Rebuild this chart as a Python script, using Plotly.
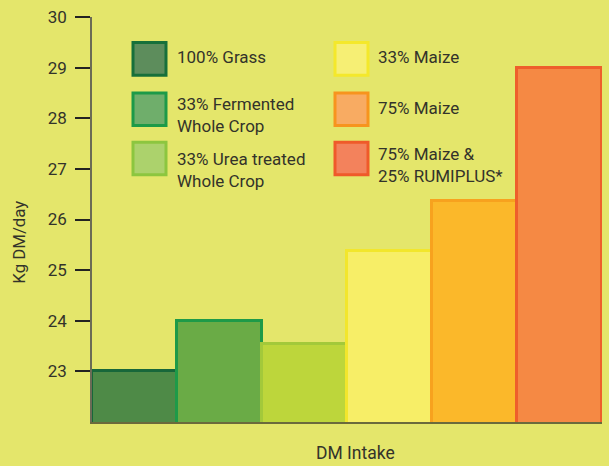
import plotly.graph_objects as go

# ---- data ----
categories = ["100% Grass", "33% Fermented<br>Whole Crop", "33% Urea treated<br>Whole Crop",
              "33% Maize", "75% Maize", "75% Maize &<br>25% RUMIPLUS*"]
values = [23.0, 24.0, 23.55, 25.37, 26.36, 29.0]
y_ticks = [23, 24, 25, 26, 27, 28, 29, 30]

# ---- styles ----
bar_fill = ["#4e8a47", "#6aab46", "#bdd63b", "#f7ee67", "#fbb82a", "#f58944"]
bar_edge = ["#17673a", "#1e9a48", "#a3c93a", "#f2e62c", "#f7a21e", "#ee5f2b"]
sw_fill = ["#5d8d5c", "#6fae6b", "#acd26c", "#f6ef74", "#f8ab62", "#f3825c"]
sw_edge = ["#17703a", "#1d9a48", "#8cc63f", "#f4e82b", "#f7941e", "#ef5a2a"]
bg = "#e4e66b"
txt = "#33332a"
FONT = "Roboto, Open Sans, sans-serif"

W, H = 609, 466
L, R, T, B = 92, 7, 11, 44
PW, PH = W - L - R, H - T - B


def px_x(px):
    return (px - L) / PW


def px_y(py):
    return (H - B - py) / PH


fig = go.Figure()
fig.add_trace(go.Bar(
    x=list(range(len(values))), y=values,
    marker=dict(color=bar_fill, line=dict(color=bar_edge, width=3)),
    width=1.0, hoverinfo="skip", showlegend=False,
))

# legend swatches + labels (two columns of three)
sw_x = [133, 133, 133, 335, 335, 335]
sw_y = [37, 88, 138, 37, 88, 138]
txt_x = [175, 175, 175, 376, 376, 376]
txt_y = [52, 110, 166, 52, 103, 161]
shapes = []
annotations = []
for i, lab in enumerate(categories):
    shapes.append(dict(type="rect", xref="paper", yref="paper",
                       x0=px_x(sw_x[i]), x1=px_x(sw_x[i] + 33),
                       y0=px_y(sw_y[i] + 33), y1=px_y(sw_y[i]),
                       fillcolor=sw_fill[i], line=dict(color=sw_edge[i], width=3)))
    annotations.append(dict(text=lab, xref="paper", yref="paper",
                            x=px_x(txt_x[i]), y=px_y(txt_y[i]),
                            xanchor="left", yanchor="middle", align="left",
                            showarrow=False, font=dict(family=FONT, size=17, color=txt)))

annotations.append(dict(text="Kg DM/day", xref="paper", yref="paper",
                        x=px_x(19), y=px_y(240), textangle=-90,
                        xanchor="center", yanchor="middle", showarrow=False,
                        font=dict(family=FONT, size=16.8, color=txt)))
annotations.append(dict(text="DM Intake", xref="paper", yref="paper",
                        x=px_x(355), y=px_y(453),
                        xanchor="center", yanchor="middle", showarrow=False,
                        font=dict(family=FONT, size=17.5, color=txt)))

fig.update_layout(
    width=W, height=H,
    margin=dict(l=L, r=R, t=T, b=B),
    paper_bgcolor=bg, plot_bgcolor=bg,
    bargap=0,
    shapes=shapes, annotations=annotations,
    xaxis=dict(range=[-0.5, 5.5], showticklabels=False, ticks="",
               showgrid=False, zeroline=False,
               showline=True, linecolor="#6b6a3c", linewidth=2),
    yaxis=dict(range=[22, 30], tickvals=y_ticks, ticks="outside",
               ticklen=15, tickwidth=2, tickcolor="#222222",
               ticklabelstandoff=5, ticklabeloverflow="allow",
               showgrid=False, zeroline=False,
               showline=True, linecolor="#6b6b55", linewidth=1.5,
               tickfont=dict(family=FONT, size=17, color=txt)),
)

fig.write_html("out.html", config={"displayModeBar": False},
               post_script="document.body.style.margin='0';document.body.style.overflow='hidden';")
